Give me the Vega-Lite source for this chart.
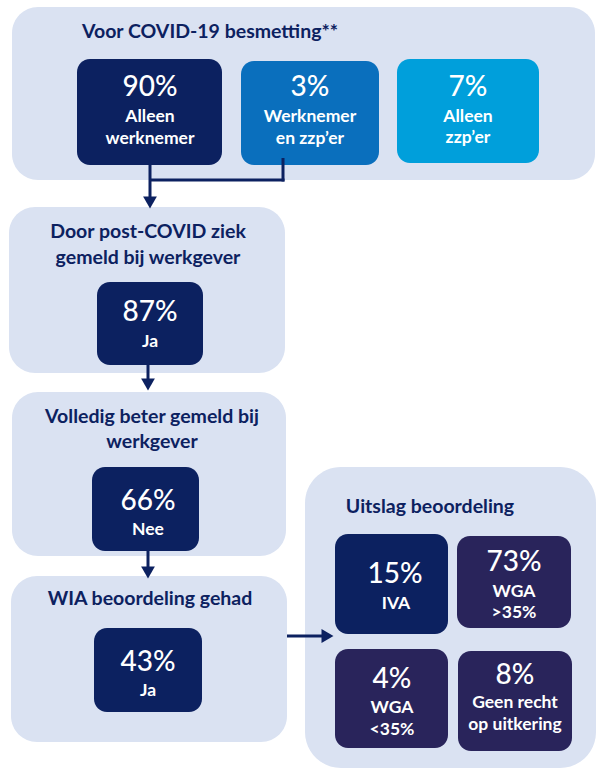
{
  "$schema": "https://vega.github.io/schema/vega-lite/v6.json",
  "width": 600,
  "height": 771,
  "padding": 0,
  "autosize": {"type": "none"},
  "background": "white",
  "config": {"view": {"stroke": null}},
  "datasets": {
    "panels": [
      {"x": 12, "x2": 595, "y": 7, "y2": 180, "kind": "panel"},
      {"x": 9, "x2": 285, "y": 207, "y2": 373, "kind": "panel"},
      {"x": 12, "x2": 286, "y": 392, "y2": 556, "kind": "panel"},
      {"x": 11, "x2": 287, "y": 576, "y2": 742, "kind": "panel"}
    ],
    "bigpanel": [
      {"x": 305, "x2": 596, "y": 467, "y2": 768, "kind": "panel"}
    ],
    "boxes": [
      {"x": 77, "x2": 222, "y": 59, "y2": 165, "kind": "navy"},
      {"x": 241, "x2": 379, "y": 61, "y2": 165, "kind": "blue"},
      {"x": 397, "x2": 539, "y": 59, "y2": 163, "kind": "cyan"},
      {"x": 97, "x2": 203, "y": 282, "y2": 365, "kind": "navy"},
      {"x": 92, "x2": 199, "y": 467, "y2": 551, "kind": "navy"},
      {"x": 94, "x2": 202, "y": 628, "y2": 712, "kind": "navy"},
      {"x": 335, "x2": 448, "y": 534, "y2": 634, "kind": "navy"},
      {"x": 457, "x2": 571, "y": 536, "y2": 628, "kind": "purple"},
      {"x": 335, "x2": 448, "y": 649, "y2": 748, "kind": "purple"},
      {"x": 458, "x2": 572, "y": 651, "y2": 751, "kind": "purple"}
    ],
    "lines": [
      {"x": 150, "x2": 150, "y": 165, "y2": 200},
      {"x": 150, "x2": 284.5, "y": 180, "y2": 180},
      {"x": 283, "x2": 283, "y": 158, "y2": 181.5},
      {"x": 148, "x2": 148, "y": 365, "y2": 383},
      {"x": 148, "x2": 148, "y": 551, "y2": 571},
      {"x": 287, "x2": 326, "y": 636, "y2": 636}
    ],
    "heads_down": [
      {"x": 150, "y": 202.5},
      {"x": 148, "y": 384.5},
      {"x": 148, "y": 572.5}
    ],
    "heads_right": [
      {"x": 327.5, "y": 636}
    ],
    "pcts": [
      {"x": 150, "y": 88, "text": "90%"},
      {"x": 310, "y": 88, "text": "3%"},
      {"x": 468, "y": 88, "text": "7%"},
      {"x": 150, "y": 313, "text": "87%"},
      {"x": 148, "y": 502, "text": "66%"},
      {"x": 148, "y": 663, "text": "43%"},
      {"x": 395, "y": 575, "text": "15%"},
      {"x": 514, "y": 563, "text": "73%"},
      {"x": 392, "y": 680, "text": "4%"},
      {"x": 515, "y": 676, "text": "8%"}
    ],
    "labels": [
      {"x": 150, "y": 117, "text": "Alleen"},
      {"x": 150, "y": 139, "text": "werknemer"},
      {"x": 310, "y": 117, "text": "Werknemer"},
      {"x": 310, "y": 139, "text": "en zzp’er"},
      {"x": 468, "y": 117, "text": "Alleen"},
      {"x": 468, "y": 138, "text": "zzp’er"},
      {"x": 150, "y": 342, "text": "Ja"},
      {"x": 148, "y": 530, "text": "Nee"},
      {"x": 148, "y": 691, "text": "Ja"},
      {"x": 396, "y": 604, "text": "IVA"},
      {"x": 514, "y": 592, "text": "WGA"},
      {"x": 514, "y": 613, "text": ">35%"},
      {"x": 392, "y": 708, "text": "WGA"},
      {"x": 392, "y": 730, "text": "<35%"},
      {"x": 515, "y": 703, "text": "Geen recht"},
      {"x": 515, "y": 725, "text": "op uitkering"}
    ],
    "titles": [
      {"x": 210, "y": 32, "text": "Voor COVID-19 besmetting**"},
      {"x": 148, "y": 232, "text": "Door post-COVID ziek"},
      {"x": 148, "y": 258, "text": "gemeld bij werkgever"},
      {"x": 152, "y": 417, "text": "Volledig beter gemeld bij"},
      {"x": 152, "y": 442, "text": "werkgever"},
      {"x": 150, "y": 599, "text": "WIA beoordeling gehad"},
      {"x": 430, "y": 507, "text": "Uitslag beoordeling"}
    ]
  },
  "encoding": {
    "x": {"field": "x", "type": "quantitative", "scale": {"domain": [0, 600], "nice": false, "zero": false}, "axis": null},
    "y": {"field": "y", "type": "quantitative", "scale": {"domain": [0, 771], "nice": false, "zero": false, "reverse": true}, "axis": null}
  },
  "layer": [
    {
      "data": {"name": "panels"},
      "mark": {"type": "rect", "cornerRadius": 26},
      "encoding": {
        "x2": {"field": "x2"},
        "y2": {"field": "y2"},
        "color": {"field": "kind", "type": "nominal", "legend": null,
          "scale": {"domain": ["panel", "navy", "blue", "cyan", "purple"], "range": ["#dae2f2", "#0c2160", "#0a6fbd", "#009fdb", "#29245b"]}}
      }
    },
    {
      "data": {"name": "bigpanel"},
      "mark": {"type": "rect", "cornerRadius": 36},
      "encoding": {
        "x2": {"field": "x2"},
        "y2": {"field": "y2"},
        "color": {"field": "kind", "type": "nominal", "legend": null}
      }
    },
    {
      "data": {"name": "boxes"},
      "mark": {"type": "rect", "cornerRadius": 13},
      "encoding": {
        "x2": {"field": "x2"},
        "y2": {"field": "y2"},
        "color": {"field": "kind", "type": "nominal", "legend": null}
      }
    },
    {
      "data": {"name": "lines"},
      "mark": {"type": "rule", "strokeWidth": 3, "color": "#0c2160"},
      "encoding": {
        "x2": {"field": "x2"},
        "y2": {"field": "y2"}
      }
    },
    {
      "data": {"name": "heads_down"},
      "mark": {"type": "point", "shape": "triangle-down", "filled": true, "size": 190, "opacity": 1, "color": "#0c2160"},
      "encoding": {}
    },
    {
      "data": {"name": "heads_right"},
      "mark": {"type": "point", "shape": "triangle-right", "filled": true, "size": 190, "opacity": 1, "color": "#0c2160"},
      "encoding": {}
    },
    {
      "data": {"name": "pcts"},
      "mark": {"type": "text", "font": "Lato", "fontSize": 28, "fontWeight": 500, "color": "white", "baseline": "middle", "align": "center"},
      "encoding": {"text": {"field": "text"}}
    },
    {
      "data": {"name": "labels"},
      "mark": {"type": "text", "font": "Lato", "fontSize": 17.5, "fontWeight": "bold", "color": "white", "baseline": "middle", "align": "center"},
      "encoding": {"text": {"field": "text"}}
    },
    {
      "data": {"name": "titles"},
      "mark": {"type": "text", "font": "Lato", "fontSize": 19.5, "fontWeight": "bold", "color": "#0c2160", "baseline": "middle", "align": "center"},
      "encoding": {"text": {"field": "text"}}
    }
  ]
}
